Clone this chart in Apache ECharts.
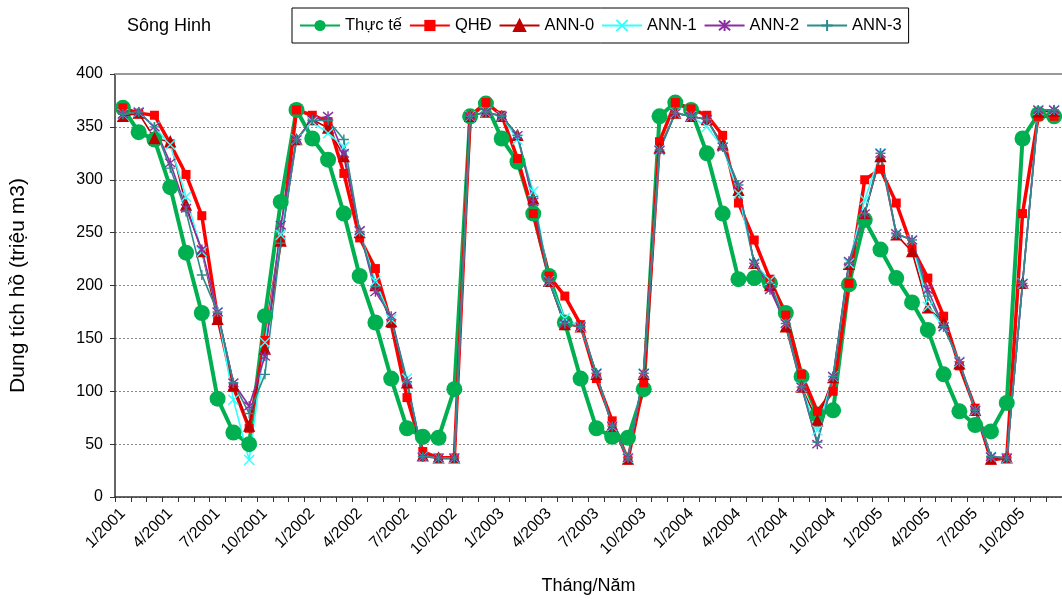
<!DOCTYPE html>
<html>
<head>
<meta charset="utf-8">
<script src="https://cdn.jsdelivr.net/npm/echarts@6/dist/echarts.min.js"></script>
<style>
  html, body { margin: 0; padding: 0; background: #fff; }
  #chart { width: 1062px; height: 604px; }
</style>
</head>
<body>
<div id="chart"></div>
<script>
// Months 1/2001 .. 12/2005
const years = [2001, 2002, 2003, 2004, 2005];
const months = [];
years.forEach(y => { for (let m = 1; m <= 12; m++) months.push(m + '/' + y); });

// Reservoir storage (million m3)
const thucTe = [
  368, 345, 338, 293, 231, 174, 93, 61, 50, 171,
  279, 366, 339, 319, 268, 209, 165, 112, 65, 57,
  56, 102, 360, 372, 339, 317, 268, 209, 165, 112,
  65, 57, 56, 102, 360, 373, 366, 325, 268, 206,
  207, 202, 174, 114, 78, 82, 201, 262, 234, 207,
  184, 158, 116, 81, 68, 62, 89, 339, 362, 360
];
const qhd = [
  368, 363, 361, 334, 305, 266, 170, 104, 65, 148,
  243, 366, 361, 355, 306, 245, 216, 164, 94, 43,
  37, 37, 360, 373, 361, 320, 268, 209, 190, 163,
  112, 72, 35, 108, 336, 373, 367, 361, 342, 278,
  243, 206, 172, 116, 81, 100, 202, 300, 310, 278,
  236, 207, 171, 124, 84, 35, 37, 268, 360, 360
];
const ann0 = [
  360, 363, 339, 336, 276, 232, 168, 105, 67, 140,
  242, 338, 357, 349, 322, 250, 200, 166, 108, 39,
  37, 37, 360, 364, 360, 342, 282, 204, 163, 161,
  116, 67, 36, 116, 330, 363, 360, 357, 333, 290,
  221, 200, 161, 104, 72, 113, 220, 268, 322, 248,
  232, 179, 165, 126, 82, 36, 37, 202, 364, 365
];
const ann1 = [
  362, 364, 350, 333, 284, 232, 175, 92, 35, 146,
  248, 338, 355, 344, 331, 251, 204, 168, 112, 38,
  37, 37, 360, 364, 360, 338, 289, 204, 169, 161,
  117, 67, 37, 117, 328, 363, 360, 350, 331, 287,
  221, 205, 164, 104, 63, 114, 221, 281, 325, 249,
  243, 180, 161, 128, 82, 38, 37, 202, 366, 366
];
const ann2 = [
  362, 364, 350, 316, 273, 234, 175, 108, 86, 133,
  257, 338, 357, 360, 325, 252, 194, 171, 109, 38,
  37, 37, 360, 364, 360, 342, 279, 204, 164, 161,
  117, 67, 37, 117, 328, 363, 360, 357, 331, 295,
  221, 196, 164, 104, 50, 114, 223, 268, 325, 249,
  243, 196, 161, 128, 82, 38, 37, 202, 366, 366
];
const ann3 = [
  362, 364, 350, 311, 270, 210, 175, 108, 79, 116,
  240, 338, 356, 356, 338, 251, 199, 168, 109, 38,
  37, 37, 360, 364, 360, 342, 284, 204, 164, 161,
  117, 67, 37, 117, 328, 363, 360, 357, 331, 295,
  221, 202, 164, 104, 52, 114, 221, 268, 325, 249,
  243, 190, 161, 128, 82, 38, 37, 202, 366, 366
];

const FONT = '"Liberation Sans", Arial, sans-serif';

const SYM_X = 'path://M0,0L10,10M0,10L10,0';
const SYM_STAR = 'path://M0,0L10,10M0,10L10,0M5,-1L5,11';
const SYM_PLUS = 'path://M5,0L5,10M0,5L10,5';

function thinSeries(name, data, color, symbol, size) {
  return {
    name, type: 'line', data, symbol, symbolSize: size, showAllSymbol: true,
    lineStyle: { color, width: 1.6 },
    itemStyle: { color, borderColor: color, borderWidth: 1.4 },
    emphasis: { disabled: true }
  };
}

const chart = echarts.init(document.getElementById('chart'), null, { renderer: 'canvas' });
chart.setOption({
  animation: false,
  backgroundColor: '#fff',
  title: {
    text: 'Sông Hinh', left: 122, top: 12,
    textStyle: { fontFamily: FONT, fontSize: 18, fontWeight: 'normal', color: '#000' }
  },
  legend: {
    left: 292, top: 8,
    padding: [9, 7],
    itemGap: 7, itemWidth: 40, itemHeight: 14,
    borderColor: '#000', borderWidth: 1,
    textStyle: { fontFamily: FONT, fontSize: 16.5, color: '#000' },
    data: ['Thực tế', 'QHĐ', 'ANN-0', 'ANN-1', 'ANN-2', 'ANN-3']
  },
  grid: { left: 113, right: 0, top: 74, bottom: 107 },
  xAxis: [{
    type: 'category', data: months, boundaryGap: true,
    name: 'Tháng/Năm', nameLocation: 'middle', nameGap: 80,
    nameTextStyle: { fontFamily: FONT, fontSize: 18, color: '#000' },
    axisLine: { lineStyle: { color: '#333', width: 1.5 } },
    axisTick: { show: true, interval: 0, length: 5, lineStyle: { color: '#333' } },
    axisLabel: { interval: 2, rotate: 45, margin: 14, fontFamily: FONT, fontSize: 16, color: '#000' },
    splitLine: { show: false }
  }, {
    type: 'category', data: months, position: 'top',
    axisLine: { show: true, lineStyle: { color: '#999', width: 2 } },
    axisTick: { show: false }, axisLabel: { show: false }, splitLine: { show: false }
  }],
  yAxis: {
    type: 'value', min: 0, max: 400, interval: 50,
    name: 'Dung tích hồ (triệu m3)', nameLocation: 'middle', nameGap: 86,
    nameTextStyle: { fontFamily: FONT, fontSize: 21, color: '#000' },
    axisLine: { show: true, lineStyle: { color: '#333', width: 1.5 } },
    axisTick: { show: true, length: 5, lineStyle: { color: '#333' } },
    axisLabel: { margin: 12, fontFamily: FONT, fontSize: 16, color: '#000' },
    splitLine: { show: true, lineStyle: { color: '#888', type: [2, 2], width: 1 } }
  },
  series: [
    {
      name: 'Thực tế', type: 'line', data: thucTe, symbol: 'circle', symbolSize: 16,
      showAllSymbol: true,
      lineStyle: { color: '#00B050', width: 4 },
      itemStyle: { color: '#00B050' },
      emphasis: { disabled: true }
    },
    {
      name: 'QHĐ', type: 'line', data: qhd, symbol: 'rect', symbolSize: 9,
      showAllSymbol: true,
      lineStyle: { color: '#FF0000', width: 3.5 },
      itemStyle: { color: '#FF0000' },
      emphasis: { disabled: true }
    },
    thinSeries('ANN-0', ann0, '#C00000', 'triangle', 10),
    thinSeries('ANN-1', ann1, '#33FFFF', SYM_X, 10),
    thinSeries('ANN-2', ann2, '#8B2FA0', SYM_STAR, 10),
    thinSeries('ANN-3', ann3, '#2E8B8B', SYM_PLUS, 10)
  ]
});
</script>
</body>
</html>
